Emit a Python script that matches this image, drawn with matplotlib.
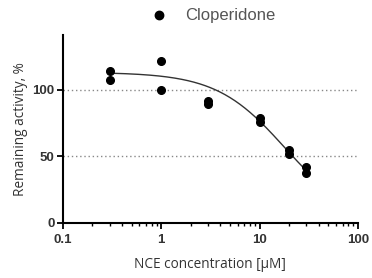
import numpy as np
import matplotlib
matplotlib.use('Agg')
import matplotlib.pyplot as plt
from matplotlib.ticker import LogLocator, FixedLocator, NullFormatter

conc = [0.3, 0.3, 1, 1, 3, 3, 10, 10, 20, 20, 30, 30]
activity = [113.8, 107.0, 121.5, 99.5, 91.5, 89.5, 78.5, 75.8, 54.5, 51.5, 42.0, 37.5]

# dose-response fit shown as the line
fit_top = 113.0
fit_ic50 = 18.0
fit_hill = 1.25
fit_range = [0.3, 32]

ref_lines = [50, 100]
yticks = [0, 50, 100]
xticks = [0.1, 1, 10, 100]
xticklabels = ['0.1', '1', '10', '100']

fig = plt.figure(figsize=(3.72, 2.78), dpi=100)
ax = fig.add_axes([0.169, 0.199, 0.793, 0.675])

for v in ref_lines:
    ax.axhline(v, color='#888888', lw=1.0, ls=(0, (1, 2)), zorder=1)

xs = np.logspace(np.log10(fit_range[0]), np.log10(fit_range[1]), 200)
ys = fit_top / (1 + (xs / fit_ic50) ** fit_hill)
ax.plot(xs, ys, color='#333333', lw=1.0, zorder=2)

ax.plot(conc, activity, 'o', color='black', ms=5.5, zorder=3, label='Cloperidone')

ax.set_xscale('log')
ax.set_xlim(0.1, 100)
ax.set_ylim(0, 141)
ax.xaxis.set_major_locator(FixedLocator(xticks))
ax.set_xticklabels(xticklabels)
ax.xaxis.set_minor_locator(LogLocator(base=10, subs=np.arange(2, 10)))
ax.xaxis.set_minor_formatter(NullFormatter())
ax.set_yticks(yticks)

for s in ['top', 'right']:
    ax.spines[s].set_visible(False)
for s in ['left', 'bottom']:
    ax.spines[s].set_linewidth(1.5)
    ax.spines[s].set_color('black')

ax.tick_params(axis='both', which='major', length=4, width=1.3, direction='out',
               labelsize=9.5, pad=2)
ax.tick_params(axis='x', which='major', pad=4)
ax.tick_params(axis='x', which='minor', length=2.5, width=1.0, direction='out')
for lab in ax.get_xticklabels() + ax.get_yticklabels():
    lab.set_family('Liberation Sans')
    lab.set_color('#333333')
    lab.set_fontweight('bold')

ax.set_xlabel('NCE concentration [µM]', fontsize=9.8, family='Open Sans', color='#333333', labelpad=8)
ax.set_ylabel('Remaining activity, %', fontsize=9.8, family='Open Sans', color='#333333', labelpad=3)

leg = ax.legend(loc='lower center', bbox_to_anchor=(0.5, 1.0), frameon=False,
                prop={'family': 'Liberation Sans', 'size': 12}, handletextpad=0.8,
                borderaxespad=0.3, markerscale=1.1, handlelength=1.6)
for t in leg.get_texts():
    t.set_color('#555555')

fig.savefig('out.png', dpi=100)
